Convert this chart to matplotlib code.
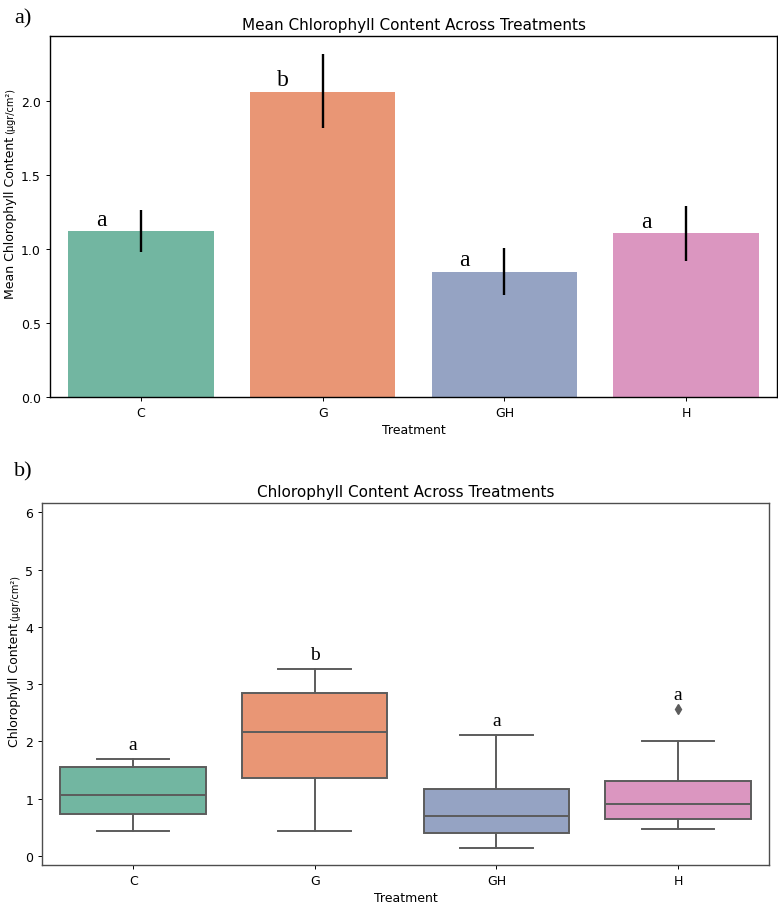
import colorsys
import matplotlib
matplotlib.use("Agg")
import matplotlib.pyplot as plt
import matplotlib.colors as mcolors

# data
treatments = ["C", "G", "GH", "H"]
mean_chl = [1.12, 2.065, 0.847, 1.106]
ci_low = [0.98, 1.82, 0.69, 0.92]
ci_high = [1.264, 2.32, 1.007, 1.29]
letters = ["a", "b", "a", "a"]

box_q1 = [0.729, 1.358, 0.402, 0.636]
box_med = [1.066, 2.168, 0.699, 0.898]
box_q3 = [1.556, 2.839, 1.171, 1.306]
whisk_lo = [0.426, 0.426, 0.129, 0.472]
whisk_hi = [1.69, 3.264, 2.115, 2.0]
outliers = [[], [], [], [2.565]]

# seaborn-style Set2 with saturation 0.75
set2 = ["#66c2a5", "#fc8d62", "#8da0cb", "#e78ac3"]
def desat(c, prop=0.75):
    h, l, s = colorsys.rgb_to_hls(*mcolors.to_rgb(c))
    return colorsys.hls_to_rgb(h, l, s * prop)
colors = [desat(c) for c in set2]

fs_tick = 9
fs_title = 11

fig = plt.figure(figsize=(7.78, 9.04), dpi=100)
ax1 = fig.add_axes([0.0643, 0.5597, 0.9344, 0.3993])
ax2 = fig.add_axes([0.0544, 0.042, 0.934, 0.4001])

x = list(range(len(treatments)))

# ---- a) bar chart ----
yerr = [[m - lo for m, lo in zip(mean_chl, ci_low)],
        [hi - m for m, hi in zip(mean_chl, ci_high)]]
ax1.bar(x, mean_chl, width=0.8, color=colors)
ax1.errorbar(x, mean_chl, yerr=yerr, fmt="none", ecolor="black",
             elinewidth=1.7, capsize=0)
for xi, m, let in zip(x, mean_chl, letters):
    ax1.text(xi - 0.22, m + 0.045, let, ha="center", va="baseline",
             family="Liberation Serif", fontsize=17)
ax1.set_xlim(-0.5, 3.5)
ax1.set_ylim(0, 2.44)
ax1.set_xticks(x)
ax1.set_xticklabels(treatments)
ax1.set_yticks([0.0, 0.5, 1.0, 1.5, 2.0])
ax1.set_title("Mean Chlorophyll Content Across Treatments", fontsize=fs_title, pad=5)
ax1.set_xlabel("Treatment", fontsize=fs_tick, labelpad=3)
ax1.set_ylabel("Mean Chlorophyll Content", fontsize=fs_tick, labelpad=3)

# ---- b) box plot ----
stats = []
for i in range(len(treatments)):
    stats.append(dict(med=box_med[i], q1=box_q1[i], q3=box_q3[i],
                      whislo=whisk_lo[i], whishi=whisk_hi[i], fliers=outliers[i]))
gray = "0.36"
bp = ax2.bxp(stats, positions=x, widths=0.8, patch_artist=True,
             showfliers=True, capwidths=0.4,
             boxprops=dict(edgecolor=gray, linewidth=1.4),
             whiskerprops=dict(color=gray, linewidth=1.4),
             capprops=dict(color=gray, linewidth=1.4),
             medianprops=dict(color=gray, linewidth=1.4),
             flierprops=dict(marker="d", markerfacecolor=gray,
                             markeredgecolor=gray, markersize=5))
for patch, c in zip(bp["boxes"], colors):
    patch.set_facecolor(c)
for xi, i in zip(x, range(len(treatments))):
    top = max([whisk_hi[i]] + outliers[i])
    ax2.text(xi, top + 0.17, letters[i], ha="center", va="baseline",
             family="Liberation Serif", fontsize=14)
ax2.set_xlim(-0.5, 3.5)
ax2.set_ylim(-0.16, 6.16)
ax2.set_xticks(x)
ax2.set_xticklabels(treatments)
ax2.set_yticks(range(7))
ax2.set_title("Chlorophyll Content Across Treatments", fontsize=fs_title, pad=5)
ax2.set_xlabel("Treatment", fontsize=fs_tick, labelpad=3)
ax2.set_ylabel("Chlorophyll Content", fontsize=fs_tick, labelpad=3)
for sp in ax2.spines.values():
    sp.set_color("0.3")

for ax in (ax1, ax2):
    ax.tick_params(labelsize=fs_tick, length=3, width=0.7)
    for sp in ax.spines.values():
        sp.set_linewidth(1.0)

# small unit text after each y label
fig.canvas.draw()
r = fig.canvas.get_renderer()
W, H = fig.bbox.width, fig.bbox.height
for ax in (ax1, ax2):
    bb = ax.yaxis.label.get_window_extent(r)
    fig.text((bb.x0 + bb.x1) / 2 / W, (bb.y1 + 2) / H, "(\u03bcgr/cm\u00b2)",
             rotation=90, ha="center", va="bottom", fontsize=7)

# panel tags
fig.text(0.018, 0.99, "a)", family="Liberation Serif", fontsize=16, va="top")
fig.text(0.018, 0.489, "b)", family="Liberation Serif", fontsize=16, va="top")

fig.savefig("out.png", dpi=100)
